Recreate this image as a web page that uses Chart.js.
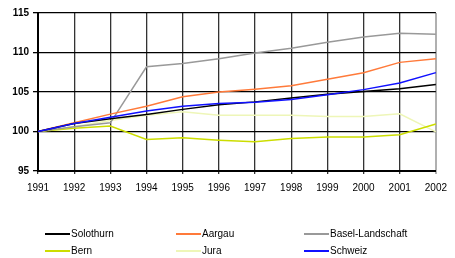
<!DOCTYPE html>
<html>
<head>
<meta charset="utf-8">
<script src="https://cdn.jsdelivr.net/npm/chart.js"></script>
<style>
  body { margin: 0; background: #fff; }
  #wrap { position: relative; width: 455px; height: 258px; }
  #legend { position: absolute; left: 0; top: 0; width: 455px; height: 258px; pointer-events: none;
            font-family: "Liberation Sans", Arial, sans-serif; font-size: 10px; color: #000; }
  .item { position: absolute; height: 12px; line-height: 12px; white-space: nowrap; }
  .ln { display: inline-block; width: 25px; height: 2px; vertical-align: middle; margin-right: 1px; }
</style>
</head>
<body>
<div id="wrap">
  <canvas id="myChart" width="455" height="258"></canvas>
  <div id="legend"></div>
</div>
<script>
    const years = ['1991', '1992', '1993', '1994', '1995', '1996', '1997', '1998', '1999', '2000', '2001', '2002'];
    const solothurn = [100, 101.0, 101.6, 102.15, 102.8, 103.4, 103.75, 104.25, 104.7, 105.05, 105.4, 105.95];
    const aargau = [100, 101.1, 102.2, 103.2, 104.4, 105.0, 105.35, 105.8, 106.6, 107.45, 108.75, 109.2];
    const baselLandschaft = [100, 100.6, 101.1, 108.2, 108.6, 109.2, 109.95, 110.55, 111.3, 111.95, 112.45, 112.3];
    const bern = [100, 100.4, 100.7, 99.0, 99.2, 98.9, 98.7, 99.1, 99.3, 99.3, 99.6, 100.95];
    const jura = [100, 100.6, 101.4, 102.05, 102.5, 102.05, 102.05, 102.05, 101.9, 101.9, 102.25, 99.95];
    const schweiz = [100, 101.0, 101.8, 102.6, 103.2, 103.55, 103.7, 104.05, 104.65, 105.3, 106.15, 107.45];

    const seriesNames = ['Solothurn', 'Aargau', 'Basel-Landschaft', 'Bern', 'Jura', 'Schweiz'];
    const seriesData = [solothurn, aargau, baselLandschaft, bern, jura, schweiz];
    const seriesColors = ['#000000', '#ff7a3a', '#999999', '#ccdd00', '#eef6b8', '#1010ff'];

    const datasets = seriesNames.map((name, i) => ({
        label: name,
        data: seriesData[i],
        borderColor: seriesColors[i],
        backgroundColor: seriesColors[i],
        borderWidth: 1.5,
        pointRadius: 0,
        tension: 0,
        order: name === 'Schweiz' ? 0 : 1
    }));

    var ctx = document.getElementById('myChart').getContext('2d');
    var myChart = new Chart(ctx, {
        type: 'line',
        data: { labels: years, datasets: datasets },
        options: {
            responsive: false,
            animation: false,
            layout: { padding: { left: 0, top: 13, right: 12, bottom: 0 } },
            plugins: { legend: { display: false }, tooltip: { enabled: false } },
            scales: {
                x: {
                    offset: false,
                    grid: {
                        color: c => c.index === years.length - 1 ? '#b0b0b0' : '#333333',
                        lineWidth: c => c.index === years.length - 1 ? 2 : 1.3,
                        tickLength: 3
                    },
                    border: { color: '#000', width: 2 },
                    ticks: {
                        color: '#000',
                        padding: 8,
                        maxRotation: 0,
                        autoSkip: false,
                        font: { family: '"Liberation Sans", Arial, sans-serif', size: 10 }
                    },
                    afterFit: s => { s.height = 87; }
                },
                y: {
                    min: 95,
                    max: 115,
                    ticks: {
                        stepSize: 5,
                        color: '#000',
                        padding: 4,
                        font: { family: '"Liberation Sans", Arial, sans-serif', size: 10, weight: 'bold' }
                    },
                    grid: { color: '#000', lineWidth: 1.3, tickLength: 5 },
                    border: { color: '#000', width: 2 },
                    afterFit: s => { s.width = 38; }
                }
            }
        }
    });

    // legend in three columns, two rows
    const legendCols = [45, 176, 304];
    const legendRows = [228, 245];
    const legend = document.getElementById('legend');
    seriesNames.forEach((name, i) => {
        const el = document.createElement('div');
        el.className = 'item';
        el.style.left = legendCols[i % 3] + 'px';
        el.style.top = legendRows[Math.floor(i / 3)] + 'px';
        el.innerHTML = `<span class="ln" style="background:${seriesColors[i]}"></span>${name}`;
        legend.appendChild(el);
    });
</script>
</body>
</html>
